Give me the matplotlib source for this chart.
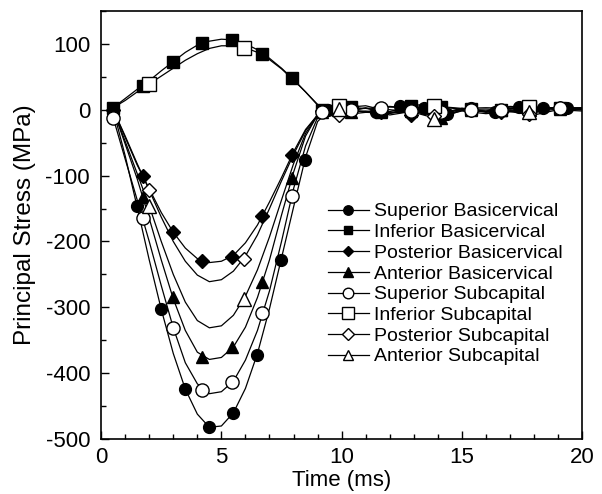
import numpy as np
import matplotlib
matplotlib.use("Agg")
import matplotlib.pyplot as plt
from matplotlib.lines import Line2D
from matplotlib.ticker import MultipleLocator

plt.rcParams["font.family"] = ["Liberation Sans", "DejaVu Sans"]
plt.rcParams["axes.unicode_minus"] = False

# ---- data ----
# common time grid for the traced curves (ms)
T_LINE = [0.5, 1.0, 1.5, 2.0, 2.5, 3.0, 3.5, 4.0, 4.5, 5.0, 5.5, 6.0, 6.5,
          7.0, 7.5, 8.0, 8.5, 9.0, 9.5, 10, 11, 12, 13, 14, 15, 16, 17, 18,
          19, 20]

sup_basi = [0, -70, -148, -228, -303, -370, -424, -462, -482, -480, -460,
            -423, -370, -302, -225, -148, -72, -18, 0, 2, -4, 5, 2, -6, 2,
            -3, 4, 2, 3, 2]
inf_basi = [3, 17, 31, 44, 59, 73, 87, 98, 104, 107, 106, 100, 91, 78, 63,
            46, 27, 7, 0, 3, 6, -3, 8, 4, 1, -2, 5, 3, 2, 3]
post_basi = [0, -42, -84, -120, -156, -186, -210, -226, -232, -230, -221,
             -202, -175, -140, -103, -64, -30, -8, 0, -6, 3, -8, -2, -10, 2,
             -4, -3, 0, 4, 1]
ant_basi = [0, -52, -105, -165, -228, -287, -335, -368, -379, -376, -360,
            -330, -285, -228, -160, -95, -40, -8, 0, -4, -2, -6, 4, -12, 0,
            -3, 2, 0, 2, 0]
sup_sub = [-12, -75, -137, -200, -267, -331, -384, -416, -431, -428, -412,
           -380, -335, -275, -200, -120, -55, -12, 0, 0, 2, -4, 0, -6, 0,
           1, -1, 0, 3, 2]
inf_sub = [3, 14, 27, 39, 51, 63, 75, 85, 93, 97, 97, 94, 87, 76, 62, 45,
           27, 8, 0, 4, 2, 4, 3, 5, 2, 3, 2, 4, 2, 3]
post_sub = [0, -40, -82, -122, -163, -200, -230, -251, -261, -258, -245,
            -222, -190, -150, -108, -68, -32, -8, 0, -8, -4, -5, -3, -10, -2,
            -6, -3, -8, 0, -2]
ant_sub = [0, -48, -97, -146, -200, -250, -292, -320, -331, -328, -312,
           -283, -243, -193, -137, -82, -36, -8, 0, 1, -3, 0, -4, -14, -1,
           -2, 0, -3, 1, 0]

# symbol positions (ms, MPa)
t_mk_a = [0.5, 1.48, 2.5, 3.49, 4.49, 5.5, 6.47, 7.47, 8.46, 9.45, 10.44,
          11.43, 12.42, 13.41, 14.4, 15.39, 16.38, 17.37, 18.36, 19.35]
t_mk_b = [0.5, 1.73, 2.97, 4.21, 5.45, 6.69, 7.93, 9.17, 10.41, 11.65,
          12.89, 14.13, 15.37, 16.61, 17.85, 19.09]
t_mk_c = [2.0, 5.95, 9.9, 13.85, 17.8]

mk_sup_basi = [0, -146, -303, -424, -482, -460, -372, -228, -77, -1, 2, -4,
               5, 3, -6, 2, -3, 4, 2, 3]
mk_inf_basi = [3, 36, 73, 101, 106, 85, 48, 0, 4, -2, 6, 4, 1, -1, 4, 2]
mk_post_basi = [0, -100, -185, -230, -223, -162, -69, -2, 2, -4, -8, -10,
                0, -3, -2, 2]
mk_ant_basi = [0, -133, -284, -375, -360, -262, -103, -3, -4, -4, -2, -12,
               0, 0, 0, 1]
mk_sup_sub = [-12, -165, -331, -426, -414, -308, -131, -4, 0, 2, -2, -4, 0,
              0, -1, 2]
mk_inf_sub = [39, 94, 5, 5, 4]
mk_post_sub = [-122, -226, -8, -10, -6]
mk_ant_sub = [-146, -287, 1, -14, -3]

labels = ["Superior Basicervical", "Inferior Basicervical",
          "Posterior Basicervical", "Anterior Basicervical",
          "Superior Subcapital", "Inferior Subcapital",
          "Posterior Subcapital", "Anterior Subcapital"]

series = [
    (sup_basi, t_mk_a, mk_sup_basi, "o", "black", 8.5),
    (inf_basi, t_mk_b, mk_inf_basi, "s", "black", 8),
    (post_basi, t_mk_b, mk_post_basi, "D", "black", 7),
    (ant_basi, t_mk_b, mk_ant_basi, "^", "black", 8.5),
    (sup_sub, t_mk_b, mk_sup_sub, "o", "white", 9.5),
    (inf_sub, t_mk_c, mk_inf_sub, "s", "white", 10),
    (post_sub, t_mk_c, mk_post_sub, "D", "white", 7.5),
    (ant_sub, t_mk_c, mk_ant_sub, "^", "white", 9.5),
]

fig = plt.figure(figsize=(6.02, 4.94), dpi=100)
ax = fig.add_axes([0.168, 0.111, 0.799, 0.867])

handles = []
for (vals, t_mk, mk_vals, m, fc, ms), lab in zip(series, labels):
    ax.plot(T_LINE, vals, color="black", lw=0.9, zorder=2)
    ax.plot(t_mk, mk_vals, ls="none", marker=m, ms=ms, mfc=fc,
            mec="black", mew=1.0, zorder=3)
    handles.append(Line2D([], [], color="black", lw=0.9, marker=m,
                          ms=ms * 0.8, mfc=fc, mec="black", mew=1.0,
                          label=lab))

ax.set_xlim(0, 20)
ax.set_ylim(-500, 150)
ax.set_xticks([0, 5, 10, 15, 20])
ax.set_yticks([-500, -400, -300, -200, -100, 0, 100])
ax.xaxis.set_minor_locator(MultipleLocator(1))
ax.yaxis.set_minor_locator(MultipleLocator(50))
ax.tick_params(which="both", direction="in", top=False, right=False,
               labelsize=16)
ax.tick_params(which="major", length=6, width=1)
ax.tick_params(which="minor", length=3.5, width=1)
ax.tick_params(axis="y", which="major", pad=8)
ax.tick_params(axis="x", which="major", pad=6)
for sp in ax.spines.values():
    sp.set_linewidth(1.2)

ax.set_xlabel("Time (ms)", fontsize=16, labelpad=1)
ax.set_ylabel("Principal Stress (MPa)", fontsize=17.5, labelpad=7)

ax.legend(handles=handles, loc="upper left", bbox_to_anchor=(0.455, 0.57),
          frameon=False, fontsize=14, handlelength=2.1, handletextpad=0.3,
          labelspacing=0.16, borderaxespad=0)

fig.savefig("out.png", dpi=100)
